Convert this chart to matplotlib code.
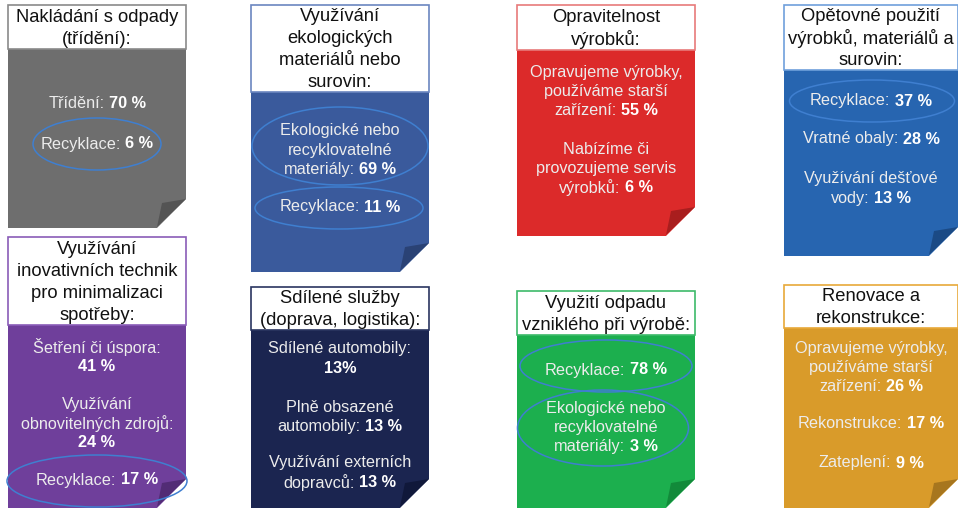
import matplotlib
matplotlib.use("Agg")
import matplotlib.pyplot as plt
from matplotlib.patches import Polygon, Rectangle, Ellipse

plt.rcParams['font.family'] = ['Liberation Sans', 'DejaVu Sans']

# ---------------- data ----------------
titles = [
    "Nakládání s odpady\n(třídění):",
    "Využívání\nekologických\nmateriálů nebo\nsurovin:",
    "Opravitelnost\nvýrobků:",
    "Opětovné použití\nvýrobků, materiálů a\nsurovin:",
    "Využívání\ninovativních technik\npro minimalizaci\nspotřeby:",
    "Sdílené služby\n(doprava, logistika):",
    "Využití odpadu\nvzniklého při výrobě:",
    "Renovace a\nrekonstrukce:",
]

waste_labels = ["Třídění:", "Recyklace:"]
waste_values = [70, 6]
eco_labels = ["Ekologické nebo\nrecyklovatelné\nmateriály:", "Recyklace:"]
eco_values = [69, 11]
repair_labels = ["Opravujeme výrobky,\npoužíváme starší\nzařízení:",
                 "Nabízíme či\nprovozujeme servis\nvýrobků:"]
repair_values = [55, 6]
reuse_labels = ["Recyklace:", "Vratné obaly:", "Využívání dešťové\nvody:"]
reuse_values = [37, 28, 13]
innov_labels = ["Šetření či úspora:\n", "Využívání\nobnovitelných zdrojů:\n", "Recyklace:"]
innov_values = [41, 24, 17]
shared_labels = ["Sdílené automobily:\n", "Plně obsazené\nautomobily:", "Využívání externích\ndopravců:"]
shared_values = [13, 13, 13]
shared_units = ["%", " %", " %"]
byprod_labels = ["Recyklace:", "Ekologické nebo\nrecyklovatelné\nmateriály:"]
byprod_values = [78, 3]
renov_labels = ["Opravujeme výrobky,\npoužíváme starší\nzařízení:", "Rekonstrukce:", "Zateplení:"]
renov_values = [26, 17, 9]

card_labels = [waste_labels, eco_labels, repair_labels, reuse_labels,
               innov_labels, shared_labels, byprod_labels, renov_labels]
card_values = [waste_values, eco_values, repair_values, reuse_values,
               innov_values, shared_values, byprod_values, renov_values]

# ---------------- layout / style ----------------
# x0, x1, header top, header bottom, body bottom
geom = [
    (8, 186, 5, 49, 228),
    (251, 429, 5, 92, 272),
    (517, 695, 5, 50, 236),
    (784, 958, 5, 70, 256),
    (8, 186, 237, 325, 508),
    (251, 429, 287, 330, 508),
    (517, 695, 291, 335, 508),
    (784, 958, 285, 328, 508),
]
body_colors = ['#6e6e6e', '#3a5a9c', '#dc2a2a', '#2765b0',
               '#6f3f9b', '#1b2550', '#1caf4e', '#d99b2a']
fold_colors = ['#545454', '#2a4275', '#a91e1e', '#1b4a85',
               '#522c75', '#10183a', '#128a3a', '#a7761e']
edge_colors = ['#8a8a8a', '#6b86c0', '#e87a7a', '#6fa0db',
               '#8a5cb8', '#2a3560', '#3dba6a', '#e8a93a']
item_y = [
    [104, 144],
    [131, 207],
    [72, 149],
    [101, 139, 179],
    [347, 404, 480],
    [349, 407, 463],
    [370, 408],
    [348, 424, 463],
]
# (card, center x, center y, width, height)
ellipses = [
    (0, 97, 144, 128, 52),
    (1, 340, 146, 176, 78),
    (1, 339, 208, 168, 42),
    (3, 872, 101, 165, 42),
    (4, 97, 481, 180, 52),
    (6, 606, 366, 172, 52),
    (6, 603, 428, 171, 76),
]

HEAD_FS = 13.2
BODY_FS = 11.7
HEAD_STEP = 22
BODY_STEP = 19.3
FOLD = 29

fig = plt.figure(figsize=(9.58, 5.08), dpi=100)
ax = fig.add_axes([0, 0, 1, 1])
ax.set_xlim(0, 958)
ax.set_ylim(508, 0)
ax.axis('off')
renderer = fig.canvas.get_renderer()

space_w = 0.278 * BODY_FS * 100 / 72


def mixed_line(xc, y, regular, bold):
    if regular:
        t1 = ax.text(0, y, regular, fontsize=BODY_FS, color='#ececec',
                     ha='left', va='center', zorder=5)
        w1 = t1.get_window_extent(renderer).width + space_w
    else:
        t1, w1 = None, 0
    t2 = ax.text(0, y, bold, fontsize=BODY_FS, color='white', fontweight='bold',
                 ha='left', va='center', zorder=5)
    w2 = t2.get_window_extent(renderer).width
    x0 = xc - (w1 + w2) / 2
    if t1 is not None:
        t1.set_x(x0)
    t2.set_x(x0 + w1)


for c, (x0, x1, ht, hb, bb) in enumerate(geom):
    xc = (x0 + x1) / 2
    # body with cut corner
    body = Polygon([(x0, hb), (x1, hb), (x1, bb - FOLD), (x1 - FOLD, bb), (x0, bb)],
                   closed=True, facecolor=body_colors[c], edgecolor='none', zorder=1)
    ax.add_patch(body)
    fold = Polygon([(x1 - FOLD, bb - 1), (x1, bb - FOLD), (x1 - 24, bb - 25)],
                   closed=True, facecolor=fold_colors[c], edgecolor='none', zorder=2)
    ax.add_patch(fold)
    # header
    ax.add_patch(Rectangle((x0, ht), x1 - x0, hb - ht, facecolor='white',
                           edgecolor=edge_colors[c], linewidth=1.2, zorder=3))
    lines = titles[c].split("\n")
    hc = (ht + hb) / 2 + 1
    n = len(lines)
    for i, ln in enumerate(lines):
        ax.text(xc, hc + (i - (n - 1) / 2) * HEAD_STEP, ln, fontsize=HEAD_FS,
                color='#111111', ha='center', va='center', zorder=4)
    # items
    for k, (lab, val) in enumerate(zip(card_labels[c], card_values[c])):
        unit = shared_units[k] if c == 5 else " %"
        vtxt = f"{val}{unit}"
        llines = lab.split("\n")
        y0 = item_y[c][k]
        for j, ln in enumerate(llines):
            y = y0 + j * BODY_STEP
            if j == len(llines) - 1:
                mixed_line(xc, y, ln, vtxt)
            else:
                ax.text(xc, y, ln, fontsize=BODY_FS, color='#ececec',
                        ha='center', va='center', zorder=5)

for (c, ex, ey, ew, eh) in ellipses:
    ax.add_patch(Ellipse((ex, ey), ew, eh, facecolor='none',
                         edgecolor='#3f7fd0', linewidth=1.1, zorder=6))

fig.savefig("out.png", dpi=100)
